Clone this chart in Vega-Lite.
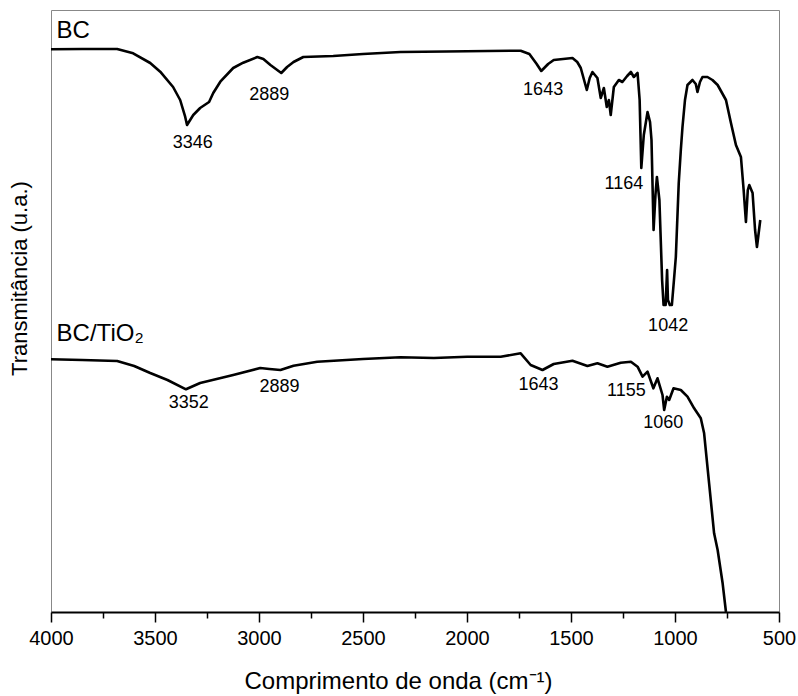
{
  "$schema": "https://vega.github.io/schema/vega-lite/v6.json",
  "width": 728,
  "height": 602,
  "autosize": {"type": "none"},
  "padding": {"left": 51, "top": 10, "right": 19, "bottom": 84},
  "background": "white",
  "config": {
    "font": "Liberation Sans",
    "view": {"stroke": "#888888", "strokeWidth": 1}
  },
  "datasets": {
    "spectra": [
      {"series": "BC", "wn": 4000, "t": 562.7},
      {"series": "BC", "wn": 3850, "t": 563},
      {"series": "BC", "wn": 3682, "t": 563},
      {"series": "BC", "wn": 3605, "t": 558.7},
      {"series": "BC", "wn": 3523, "t": 549},
      {"series": "BC", "wn": 3475, "t": 540.3},
      {"series": "BC", "wn": 3413, "t": 525},
      {"series": "BC", "wn": 3379, "t": 512},
      {"series": "BC", "wn": 3355, "t": 495.3},
      {"series": "BC", "wn": 3346, "t": 487},
      {"series": "BC", "wn": 3316, "t": 497},
      {"series": "BC", "wn": 3283, "t": 504},
      {"series": "BC", "wn": 3240, "t": 510},
      {"series": "BC", "wn": 3220, "t": 519},
      {"series": "BC", "wn": 3186, "t": 530.3},
      {"series": "BC", "wn": 3124, "t": 544},
      {"series": "BC", "wn": 3076, "t": 549.3},
      {"series": "BC", "wn": 3008, "t": 555},
      {"series": "BC", "wn": 2979, "t": 553},
      {"series": "BC", "wn": 2945, "t": 547},
      {"series": "BC", "wn": 2893, "t": 539},
      {"series": "BC", "wn": 2865, "t": 545},
      {"series": "BC", "wn": 2834, "t": 550},
      {"series": "BC", "wn": 2787, "t": 555},
      {"series": "BC", "wn": 2643, "t": 556},
      {"series": "BC", "wn": 2500, "t": 558},
      {"series": "BC", "wn": 2320, "t": 560},
      {"series": "BC", "wn": 2100, "t": 560.5},
      {"series": "BC", "wn": 1900, "t": 561},
      {"series": "BC", "wn": 1742, "t": 561.3},
      {"series": "BC", "wn": 1700, "t": 558},
      {"series": "BC", "wn": 1665, "t": 548},
      {"series": "BC", "wn": 1643, "t": 541},
      {"series": "BC", "wn": 1610, "t": 548},
      {"series": "BC", "wn": 1583, "t": 552},
      {"series": "BC", "wn": 1493, "t": 554},
      {"series": "BC", "wn": 1470, "t": 550},
      {"series": "BC", "wn": 1453, "t": 544},
      {"series": "BC", "wn": 1424, "t": 522},
      {"series": "BC", "wn": 1410, "t": 534},
      {"series": "BC", "wn": 1397, "t": 540},
      {"series": "BC", "wn": 1373, "t": 534},
      {"series": "BC", "wn": 1357, "t": 514},
      {"series": "BC", "wn": 1342, "t": 524},
      {"series": "BC", "wn": 1328, "t": 505},
      {"series": "BC", "wn": 1318, "t": 512},
      {"series": "BC", "wn": 1309, "t": 497},
      {"series": "BC", "wn": 1294, "t": 525},
      {"series": "BC", "wn": 1270, "t": 532},
      {"series": "BC", "wn": 1253, "t": 530},
      {"series": "BC", "wn": 1230, "t": 536},
      {"series": "BC", "wn": 1212, "t": 540},
      {"series": "BC", "wn": 1198, "t": 535},
      {"series": "BC", "wn": 1180, "t": 539},
      {"series": "BC", "wn": 1170, "t": 512},
      {"series": "BC", "wn": 1162, "t": 444},
      {"series": "BC", "wn": 1150, "t": 477},
      {"series": "BC", "wn": 1132, "t": 500},
      {"series": "BC", "wn": 1120, "t": 490},
      {"series": "BC", "wn": 1113, "t": 472},
      {"series": "BC", "wn": 1103, "t": 382},
      {"series": "BC", "wn": 1094, "t": 417},
      {"series": "BC", "wn": 1087, "t": 435},
      {"series": "BC", "wn": 1075, "t": 412},
      {"series": "BC", "wn": 1062, "t": 332},
      {"series": "BC", "wn": 1055, "t": 307},
      {"series": "BC", "wn": 1045, "t": 307},
      {"series": "BC", "wn": 1038, "t": 342},
      {"series": "BC", "wn": 1034, "t": 312},
      {"series": "BC", "wn": 1025, "t": 307},
      {"series": "BC", "wn": 1015, "t": 307},
      {"series": "BC", "wn": 1005, "t": 332},
      {"series": "BC", "wn": 996, "t": 355},
      {"series": "BC", "wn": 982, "t": 429},
      {"series": "BC", "wn": 972, "t": 462},
      {"series": "BC", "wn": 964, "t": 485},
      {"series": "BC", "wn": 952, "t": 512},
      {"series": "BC", "wn": 940, "t": 527},
      {"series": "BC", "wn": 916, "t": 532},
      {"series": "BC", "wn": 900, "t": 528},
      {"series": "BC", "wn": 892, "t": 520},
      {"series": "BC", "wn": 880, "t": 530},
      {"series": "BC", "wn": 868, "t": 535},
      {"series": "BC", "wn": 844, "t": 535},
      {"series": "BC", "wn": 820, "t": 532},
      {"series": "BC", "wn": 795, "t": 527},
      {"series": "BC", "wn": 755, "t": 512},
      {"series": "BC", "wn": 731, "t": 489},
      {"series": "BC", "wn": 707, "t": 467},
      {"series": "BC", "wn": 683, "t": 455},
      {"series": "BC", "wn": 670, "t": 422},
      {"series": "BC", "wn": 659, "t": 390},
      {"series": "BC", "wn": 650, "t": 422},
      {"series": "BC", "wn": 643, "t": 427},
      {"series": "BC", "wn": 627, "t": 419},
      {"series": "BC", "wn": 615, "t": 382},
      {"series": "BC", "wn": 606, "t": 365},
      {"series": "BC", "wn": 590, "t": 392},
      {"series": "BC/TiO2", "wn": 4000, "t": 252.7},
      {"series": "BC/TiO2", "wn": 3850, "t": 252},
      {"series": "BC/TiO2", "wn": 3682, "t": 251},
      {"series": "BC/TiO2", "wn": 3600, "t": 246},
      {"series": "BC/TiO2", "wn": 3523, "t": 239},
      {"series": "BC/TiO2", "wn": 3440, "t": 232},
      {"series": "BC/TiO2", "wn": 3351, "t": 222.7},
      {"series": "BC/TiO2", "wn": 3283, "t": 229},
      {"series": "BC/TiO2", "wn": 3124, "t": 237},
      {"series": "BC/TiO2", "wn": 2994, "t": 244},
      {"series": "BC/TiO2", "wn": 2950, "t": 243},
      {"series": "BC/TiO2", "wn": 2897, "t": 242},
      {"series": "BC/TiO2", "wn": 2834, "t": 246.3},
      {"series": "BC/TiO2", "wn": 2720, "t": 250.3},
      {"series": "BC/TiO2", "wn": 2500, "t": 253},
      {"series": "BC/TiO2", "wn": 2320, "t": 254.7},
      {"series": "BC/TiO2", "wn": 2159, "t": 254},
      {"series": "BC/TiO2", "wn": 1999, "t": 255.3},
      {"series": "BC/TiO2", "wn": 1838, "t": 255.3},
      {"series": "BC/TiO2", "wn": 1742, "t": 258.7},
      {"series": "BC/TiO2", "wn": 1694, "t": 247},
      {"series": "BC/TiO2", "wn": 1637, "t": 242},
      {"series": "BC/TiO2", "wn": 1583, "t": 248},
      {"series": "BC/TiO2", "wn": 1493, "t": 251.3},
      {"series": "BC/TiO2", "wn": 1421, "t": 246},
      {"series": "BC/TiO2", "wn": 1373, "t": 248.7},
      {"series": "BC/TiO2", "wn": 1325, "t": 245.3},
      {"series": "BC/TiO2", "wn": 1261, "t": 249.3},
      {"series": "BC/TiO2", "wn": 1212, "t": 250.3},
      {"series": "BC/TiO2", "wn": 1180, "t": 245.3},
      {"series": "BC/TiO2", "wn": 1156, "t": 235.3},
      {"series": "BC/TiO2", "wn": 1132, "t": 240.3},
      {"series": "BC/TiO2", "wn": 1104, "t": 223.7},
      {"series": "BC/TiO2", "wn": 1084, "t": 233.7},
      {"series": "BC/TiO2", "wn": 1060, "t": 217},
      {"series": "BC/TiO2", "wn": 1052, "t": 202},
      {"series": "BC/TiO2", "wn": 1039, "t": 215.3},
      {"series": "BC/TiO2", "wn": 1028, "t": 212},
      {"series": "BC/TiO2", "wn": 1007, "t": 223.7},
      {"series": "BC/TiO2", "wn": 972, "t": 222},
      {"series": "BC/TiO2", "wn": 940, "t": 215.3},
      {"series": "BC/TiO2", "wn": 908, "t": 203.7},
      {"series": "BC/TiO2", "wn": 876, "t": 193.7},
      {"series": "BC/TiO2", "wn": 860, "t": 178.7},
      {"series": "BC/TiO2", "wn": 836, "t": 128.7},
      {"series": "BC/TiO2", "wn": 812, "t": 78.7},
      {"series": "BC/TiO2", "wn": 795, "t": 62},
      {"series": "BC/TiO2", "wn": 771, "t": 28.7},
      {"series": "BC/TiO2", "wn": 755, "t": 0}
    ],
    "names": [
      {"label": "BC", "wn": 3973, "t": 581.5},
      {"label": "BC/TiO₂", "wn": 3973, "t": 278.2}
    ],
    "peaks": [
      {"label": "3346", "wn": 3319, "t": 469.5},
      {"label": "2889", "wn": 2951, "t": 517},
      {"label": "1643", "wn": 1634, "t": 521.7},
      {"label": "1164", "wn": 1246, "t": 428.3},
      {"label": "1042", "wn": 1033, "t": 286.5},
      {"label": "3352", "wn": 3338, "t": 208.7},
      {"label": "2889", "wn": 2901, "t": 225.3},
      {"label": "1643", "wn": 1656, "t": 227},
      {"label": "1155", "wn": 1234, "t": 220.7},
      {"label": "1060", "wn": 1057, "t": 188.7}
    ]
  },
  "layer": [
    {
      "data": {"name": "spectra"},
      "mark": {"type": "line", "color": "black", "strokeWidth": 2.6, "strokeJoin": "round", "clip": true},
      "encoding": {
        "x": {
          "field": "wn",
          "type": "quantitative",
          "scale": {"domain": [500, 4000], "reverse": true, "nice": false, "zero": false},
          "axis": {
            "values": [4000, 3750, 3500, 3250, 3000, 2750, 2500, 2250, 2000, 1750, 1500, 1250, 1000, 750, 500],
            "labelExpr": "datum.value % 500 === 0 ? format(datum.value, 'd') : ''",
            "labelFontSize": 20,
            "labelColor": "black",
            "labelPadding": 6,
            "labelFlush": false,
            "labelOverlap": false,
            "tickColor": "black",
            "tickWidth": 1.5,
            "tickSize": {"condition": {"test": "datum.value % 500 === 0", "value": 10}, "value": 6},
            "domainColor": "black",
            "domainWidth": 1.8,
            "grid": false,
            "title": "Comprimento de onda (cm⁻¹)",
            "titleFontSize": 24,
            "titleFontWeight": "normal",
            "titleColor": "black",
            "titleX": 347,
            "titleY": 76,
            "titleAlign": "center",
            "titleBaseline": "alphabetic"
          }
        },
        "y": {
          "field": "t",
          "type": "quantitative",
          "scale": {"domain": [0, 602], "nice": false},
          "axis": {
            "ticks": false,
            "labels": false,
            "domain": false,
            "grid": false,
            "title": "Transmitância (u.a.)",
            "titleFontSize": 22,
            "titleFontWeight": "normal",
            "titleColor": "black",
            "titleX": -32,
            "titleY": 268,
            "titleAngle": -90,
            "titleAlign": "center",
            "titleBaseline": "middle"
          }
        },
        "detail": {"field": "series", "type": "nominal"}
      }
    },
    {
      "data": {"name": "names"},
      "mark": {"type": "text", "align": "left", "baseline": "middle", "fontSize": 24, "color": "black"},
      "encoding": {
        "x": {"field": "wn", "type": "quantitative"},
        "y": {"field": "t", "type": "quantitative"},
        "text": {"field": "label", "type": "nominal"}
      }
    },
    {
      "data": {"name": "peaks"},
      "mark": {"type": "text", "align": "center", "baseline": "middle", "fontSize": 18, "color": "black"},
      "encoding": {
        "x": {"field": "wn", "type": "quantitative"},
        "y": {"field": "t", "type": "quantitative"},
        "text": {"field": "label", "type": "nominal"}
      }
    }
  ]
}
